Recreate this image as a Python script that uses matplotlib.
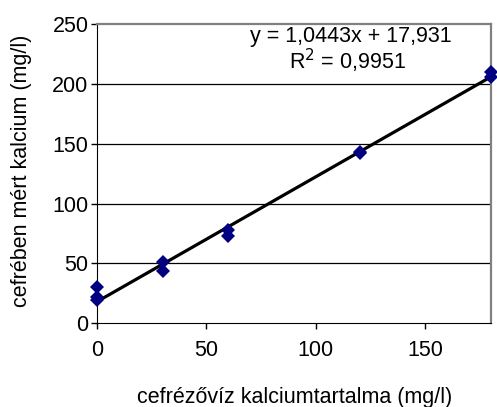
import matplotlib
matplotlib.use('Agg')
import matplotlib.pyplot as plt
import numpy as np

plt.rcParams['font.family'] = ['Liberation Sans', 'DejaVu Sans']

# mért adatok
viz_ca = [0, 0, 0, 30, 30, 60, 60, 120, 120, 180, 180]
cefre_ca = [30, 22, 19, 51, 44, 78, 73, 142, 143, 210, 206]
# trendvonal
meredekseg = 1.0443
tengelymetszet = 17.931
r2 = 0.9951

fs = 15.5

fig = plt.figure(figsize=(4.97, 4.07), dpi=100)
ax = fig.add_axes([0.195, 0.206, 0.793, 0.735])

for y in [50, 100, 150, 200]:
    ax.axhline(y, color='black', lw=0.9, zorder=1)

xs = np.array([0, 180])
ax.plot(xs, meredekseg * xs + tengelymetszet, color='black', lw=2.3, zorder=2)
ax.plot(viz_ca, cefre_ca, 'D', color='#000080', ms=6.8, mew=0, zorder=3, clip_on=False)

ax.set_xlim(0, 180)
ax.set_ylim(0, 250)
ax.set_xticks([0, 50, 100, 150])
ax.set_yticks([0, 50, 100, 150, 200, 250])
ax.tick_params(direction='out', length=4.5, width=1, labelsize=fs, colors='black')
ax.tick_params(axis='x', pad=7.5)
ax.tick_params(axis='y', pad=1.5)
ax.spines['top'].set_color('#808080')
ax.spines['right'].set_color('#808080')
ax.spines['top'].set_linewidth(1.6)
ax.spines['right'].set_linewidth(1.6)

fig.text(0.592, 0.0098, 'cefrézővíz kalciumtartalma (mg/l)', fontsize=fs,
         ha='center', va='baseline')
fig.text(0.044, 0.58, 'cefrében mért kalcium (mg/l)', fontsize=fs,
         ha='center', va='center', rotation=90)

ax.text(0.645, 0.94, 'y = 1,0443x + 17,931', transform=ax.transAxes,
        ha='center', va='baseline', fontsize=fs)
ax.text(0.637, 0.85, 'R$^2$ = 0,9951', transform=ax.transAxes,
        ha='center', va='baseline', fontsize=fs)

fig.savefig('out.png', dpi=100)
